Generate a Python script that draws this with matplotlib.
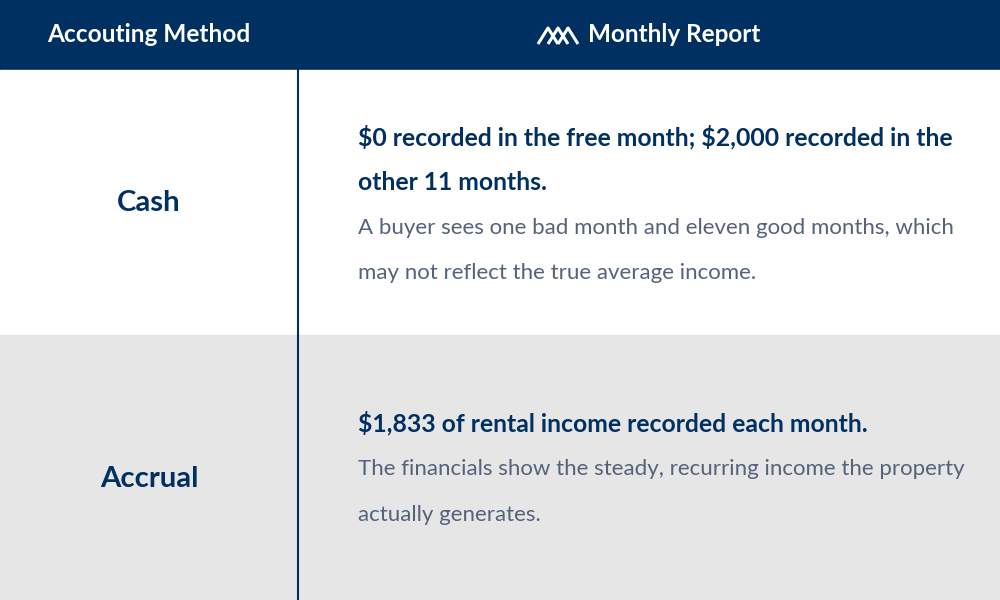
import matplotlib
matplotlib.use("Agg")
import matplotlib.pyplot as plt
from matplotlib.patches import Rectangle

headers = ["Accouting Method", "Monthly Report"]
methods = ["Cash", "Accrual"]
titles = [[r"\$0 recorded in the free month; \$2,000 recorded in the", "other 11 months."],
          [r"\$1,833 of rental income recorded each month."]]
bodies = [["A buyer sees one bad month and eleven good months, which", "may not reflect the true average income."],
          ["The financials show the steady, recurring income the property", "actually generates."]]

navy = "#002f62"
fig = plt.figure(figsize=(10, 6), dpi=100)
ax = fig.add_axes([0, 0, 1, 1])
ax.set_xlim(0, 1000); ax.set_ylim(600, 0); ax.axis("off")

ax.add_patch(Rectangle((0, 0), 1000, 70, color=navy))
ax.add_patch(Rectangle((0, 70), 1000, 265, color="white"))
ax.add_patch(Rectangle((0, 335), 1000, 265, color="#e6e6e6"))
ax.plot([298, 298], [70, 600], color=navy, lw=1.5)

ff = ["Lato", "DejaVu Sans"]
ax.text(149, 34, headers[0], color="white", fontsize=17.6, fontweight="bold", ha="center", va="center", family=ff)
ax.text(588, 34, headers[1], color="white", fontsize=17.5, fontweight="bold", ha="left", va="center", family=ff)
# logo
for x0 in [538, 548, 558]:
    ax.plot([x0, x0 + 10, x0 + 20], [44, 28, 44], color="white", lw=2.2, solid_capstyle="butt")

rows_y = [203, 479]
title_y = [[137, 182], [423]]
body_y = [[228, 273], [469, 515]]
for i in range(2):
    ax.text(149, rows_y[i], methods[i], color=navy, fontsize=21.2, fontweight="bold", ha="center", va="center", family=ff)
    for t, y in zip(titles[i], title_y[i]):
        ax.text(358, y, t, color=navy, fontsize=17.8, fontweight="bold", ha="left", va="center", family=ff)
    for t, y in zip(bodies[i], body_y[i]):
        ax.text(358, y, t, color="#55627c", fontsize=16.0, fontweight="normal", ha="left", va="center", family=ff)

fig.savefig("out.png")
